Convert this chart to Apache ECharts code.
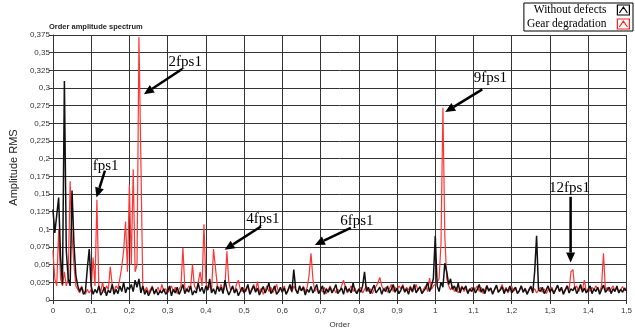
<!DOCTYPE html>
<html><head><meta charset="utf-8">
<script src="https://cdn.jsdelivr.net/npm/echarts@6/dist/echarts.min.js"></script>
<style>html,body{margin:0;padding:0;background:#fff}#chart{width:635px;height:334px}</style>
</head><body><div id="chart"></div>
<script>
// Order spectrum sampled every 0.005 order, from 0 to 1.5
const orderStep = 0.005;

const withoutDefects = [
  0.128,0.095,0.12,0.145,0.06,0.022,0.31,0.07,0.03,0.02,0.155,0.08,0.035,0.02,0.012,0.018,0.008,0.012,0.045,0.072,
  0.02,0.008,0.015,0.01,0.02,0.007,0.012,0.018,0.006,0.014,0.01,0.022,0.008,0.015,0.009,0.02,0.012,0.025,0.01,0.018,
  0.015,0.022,0.012,0.028,0.018,0.03,0.01,0.02,0.008,0.014,0.006,0.012,0.018,0.009,0.015,0.007,0.013,0.01,0.016,0.008,
  0.012,0.02,0.006,0.015,0.01,0.018,0.008,0.014,0.022,0.009,0.016,0.011,0.02,0.007,0.013,0.01,0.024,0.012,0.018,0.009,
  0.02,0.014,0.03,0.01,0.016,0.008,0.02,0.012,0.018,0.009,0.028,0.015,0.007,0.013,0.02,0.01,0.016,0.006,0.012,0.018,
  0.01,0.015,0.022,0.008,0.014,0.02,0.011,0.017,0.007,0.013,0.019,0.01,0.016,0.024,0.009,0.014,0.02,0.008,0.012,0.018,
  0.011,0.017,0.008,0.014,0.022,0.012,0.043,0.015,0.009,0.02,0.013,0.018,0.007,0.015,0.011,0.019,0.01,0.016,0.022,0.009,
  0.014,0.02,0.008,0.016,0.011,0.018,0.01,0.015,0.022,0.009,0.013,0.017,0.008,0.02,0.012,0.016,0.01,0.024,0.013,0.009,
  0.016,0.011,0.02,0.04,0.012,0.018,0.009,0.015,0.021,0.01,0.014,0.018,0.008,0.016,0.012,0.02,0.01,0.015,0.022,0.011,
  0.017,0.009,0.014,0.02,0.011,0.016,0.008,0.018,0.012,0.022,0.01,0.015,0.019,0.009,0.013,0.017,0.025,0.012,0.02,0.03,
  0.091,0.02,0.012,0.025,0.018,0.052,0.04,0.022,0.03,0.015,0.02,0.012,0.024,0.01,0.018,0.015,0.02,0.009,0.016,0.012,
  0.018,0.01,0.015,0.022,0.011,0.016,0.009,0.02,0.013,0.017,0.008,0.015,0.021,0.011,0.014,0.019,0.009,0.016,0.012,0.02,
  0.01,0.015,0.018,0.009,0.013,0.02,0.011,0.016,0.008,0.014,0.019,0.01,0.04,0.091,0.015,0.012,0.018,0.009,0.014,0.02,
  0.011,0.016,0.009,0.015,0.021,0.012,0.018,0.008,0.014,0.02,0.01,0.016,0.013,0.019,0.009,0.015,0.022,0.011,0.017,0.01,
  0.014,0.02,0.009,0.016,0.012,0.018,0.008,0.015,0.021,0.011,0.013,0.018,0.009,0.016,0.012,0.02,0.01,0.015,0.011,0.017,
  0.013
];

const gearDegradation = [
  0.07,0.03,0.02,0.1,0.03,0.02,0.04,0.02,0.03,0.168,0.09,0.05,0.02,0.015,0.01,0.02,0.012,0.008,0.015,0.01,
  0.015,0.06,0.02,0.142,0.02,0.012,0.025,0.01,0.02,0.015,0.047,0.022,0.012,0.02,0.016,0.03,0.047,0.07,0.111,0.04,
  0.163,0.05,0.185,0.04,0.05,0.372,0.2,0.02,0.012,0.018,0.01,0.015,0.02,0.008,0.013,0.018,0.01,0.022,0.012,0.016,
  0.01,0.014,0.02,0.012,0.018,0.009,0.015,0.02,0.074,0.018,0.012,0.02,0.016,0.05,0.02,0.014,0.025,0.04,0.02,0.107,
  0.025,0.015,0.02,0.012,0.072,0.074,0.02,0.015,0.022,0.012,0.02,0.069,0.025,0.014,0.018,0.01,0.022,0.028,0.015,0.012,
  0.018,0.012,0.02,0.01,0.016,0.022,0.013,0.026,0.011,0.017,0.008,0.014,0.02,0.012,0.018,0.01,0.015,0.022,0.011,0.016,
  0.012,0.02,0.009,0.015,0.018,0.011,0.02,0.014,0.01,0.017,0.013,0.02,0.012,0.018,0.035,0.066,0.03,0.012,0.016,0.01,
  0.015,0.011,0.018,0.009,0.014,0.02,0.012,0.016,0.01,0.015,0.012,0.02,0.028,0.018,0.01,0.014,0.02,0.012,0.017,0.01,
  0.014,0.018,0.01,0.015,0.02,0.012,0.016,0.009,0.014,0.019,0.024,0.032,0.02,0.014,0.018,0.011,0.016,0.022,0.012,0.018,
  0.013,0.02,0.016,0.022,0.012,0.018,0.014,0.02,0.011,0.016,0.022,0.013,0.018,0.01,0.016,0.02,0.012,0.031,0.015,0.02,
  0.018,0.025,0.03,0.08,0.272,0.09,0.03,0.02,0.014,0.02,0.012,0.018,0.01,0.015,0.02,0.012,0.016,0.01,0.014,0.018,
  0.011,0.016,0.02,0.012,0.018,0.009,0.015,0.021,0.012,0.017,0.01,0.014,0.02,0.011,0.016,0.022,0.012,0.018,0.01,0.015,
  0.019,0.012,0.016,0.01,0.014,0.02,0.011,0.017,0.009,0.015,0.02,0.012,0.016,0.01,0.014,0.018,0.011,0.016,0.009,0.014,
  0.012,0.018,0.01,0.015,0.02,0.012,0.016,0.011,0.015,0.02,0.014,0.04,0.043,0.015,0.02,0.012,0.018,0.014,0.028,0.012,
  0.016,0.012,0.018,0.014,0.02,0.015,0.012,0.02,0.066,0.014,0.018,0.012,0.016,0.02,0.013,0.017,0.011,0.015,0.019,0.013,
  0.015
];

// Harmonic callouts in data coordinates: text centre, arrow tail, arrow tip
const harmonicLabels = ['fps1', '2fps1', '4fps1', '6fps1', '9fps1', '12fps1'];
const labelAt   = [[0.138,0.190],[0.346,0.337],[0.549,0.114],[0.795,0.112],[1.144,0.314],[1.351,0.158]];
const arrowFrom = [[0.136,0.183],[0.338,0.327],[0.544,0.104],[0.779,0.102],[1.123,0.298],[1.354,0.146]];
const arrowTo   = [[0.114,0.145],[0.238,0.291],[0.449,0.071],[0.685,0.078],[1.026,0.266],[1.354,0.053]];

const toPairs = arr => arr.map((v, i) => [+(i * orderStep).toFixed(3), v]);
const comma = v => String(+(+v).toFixed(3)).replace('.', ',');

const chart = echarts.init(document.getElementById('chart'), null, {renderer: 'canvas'});
const gridCol = '#333';
const axisFont = {fontFamily: 'Liberation Sans', fontSize: 8, color: '#333'};
const boxIcon = 'path://M0,0L12,0L12,10L0,10Z M2,8L6,2L10,8';

chart.setOption({
  animation: false,
  backgroundColor: '#fff',
  title: {
    text: 'Order amplitude spectrum', left: 44, top: 18,
    textStyle: {fontFamily: 'Liberation Sans', fontWeight: 'bold', fontSize: 7.5, color: '#222'}
  },
  legend: {
    orient: 'vertical', right: 2, top: 3, align: 'right',
    itemWidth: 12, itemHeight: 10, itemGap: 2,
    padding: [1, 3, 1, 3], borderColor: '#000', borderWidth: 1,
    textStyle: {fontFamily: 'Liberation Serif', fontSize: 11.5, color: '#000', padding: [0, 6, 0, 0]},
    data: [
      {name: 'Without defects', icon: boxIcon, itemStyle: {color: '#fff', borderColor: '#000', borderWidth: 1.2}},
      {name: 'Gear degradation', icon: boxIcon, itemStyle: {color: '#fff', borderColor: '#ff2020', borderWidth: 1.2}}
    ]
  },
  grid: {left: 50, right: 0, top: 35, bottom: 34},
  xAxis: {
    type: 'value', min: 0, max: 1.5, interval: 0.1,
    name: 'Order', nameLocation: 'middle', nameGap: 21,
    nameTextStyle: {fontFamily: 'Liberation Sans', fontSize: 8, color: '#333'},
    axisLine: {show: true, lineStyle: {color: gridCol}},
    axisTick: {show: true, length: 4, lineStyle: {color: gridCol}},
    axisLabel: Object.assign({margin: 7, formatter: comma}, axisFont),
    splitLine: {show: true, lineStyle: {color: gridCol, width: 1}}
  },
  yAxis: {
    type: 'value', min: 0, max: 0.375, interval: 0.025,
    name: 'Amplitude RMS', nameLocation: 'middle', nameGap: 32,
    nameTextStyle: {fontFamily: 'Liberation Sans', fontSize: 11, color: '#222'},
    axisLine: {show: true, lineStyle: {color: gridCol}},
    axisTick: {show: true, length: 4, lineStyle: {color: gridCol}},
    axisLabel: Object.assign({margin: 3, formatter: comma}, axisFont),
    splitLine: {show: true, lineStyle: {color: gridCol, width: 1}}
  },
  series: [
    {
      name: 'Gear degradation', type: 'line', data: toPairs(gearDegradation),
      showSymbol: false, symbol: 'none', z: 2,
      lineStyle: {color: '#ff3535', width: 1.2}, itemStyle: {color: '#ff3535'}
    },
    {
      name: 'Without defects', type: 'line', data: toPairs(withoutDefects),
      showSymbol: false, symbol: 'none', z: 3,
      lineStyle: {color: '#111', width: 1.5}, itemStyle: {color: '#111'}
    }
  ]
});

// Callout text and arrows, positioned through the axis scales
const px = p => chart.convertToPixel({gridIndex: 0}, p);
const graphics = [];
harmonicLabels.forEach((label, i) => {
  const t = px(labelAt[i]);
  graphics.push({
    type: 'text', x: t[0], y: t[1], z: 20,
    style: {text: label, fontFamily: 'Liberation Serif', fontSize: 15, fill: '#000', align: 'center', verticalAlign: 'middle'}
  });
  const a = px(arrowFrom[i]), b = px(arrowTo[i]);
  const dx = b[0] - a[0], dy = b[1] - a[1], len = Math.hypot(dx, dy);
  const ux = dx / len, uy = dy / len, headL = 10, headW = 4.5;
  const base = [b[0] - ux * headL, b[1] - uy * headL];
  graphics.push({
    type: 'line', z: 20,
    shape: {x1: a[0], y1: a[1], x2: base[0], y2: base[1]},
    style: {stroke: '#000', lineWidth: 2.5}
  });
  graphics.push({
    type: 'polygon', z: 20,
    shape: {points: [b, [base[0] - uy * headW, base[1] + ux * headW], [base[0] + uy * headW, base[1] - ux * headW]]},
    style: {fill: '#000'}
  });
});
chart.setOption({graphic: graphics});
</script>
</body></html>
